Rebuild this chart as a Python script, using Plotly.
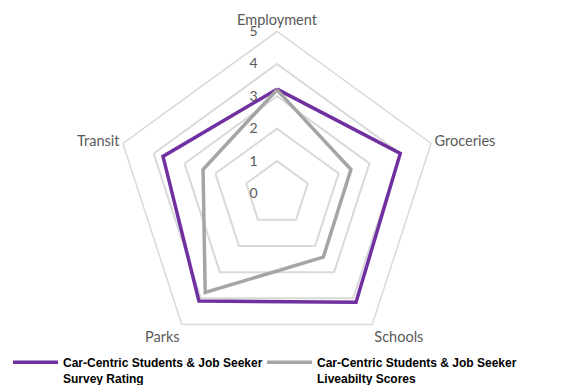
import plotly.graph_objects as go

categories = ["Employment", "Groceries", "Schools", "Parks", "Transit"]
survey_rating = [3.22, 4.0, 4.15, 4.1, 3.7]
liveability_scores = [3.2, 2.4, 2.43, 3.77, 2.4]
series_names = ["Car-Centric Students & Job Seeker<br>Survey Rating",
                "Car-Centric Students & Job Seeker<br>Liveabilty Scores"]
radial_ticks = [0, 1, 2, 3, 4, 5]

W, H = 569, 385
cx, cy, R = 277 - 8, 192.5 - 7, 162

fig = go.Figure()
for vals, name, color, leg in [(survey_rating, series_names[0], "#7030A0", "legend"),
                               (liveability_scores, series_names[1], "#A5A5A5", "legend2")]:
    fig.add_trace(go.Scatterpolar(
        r=vals + vals[:1], theta=categories + categories[:1],
        mode="lines", name=name, legend=leg, showlegend=True,
        line=dict(color=color, width=3.5),
    ))

legend_style = dict(y=0.0, xanchor="left", yanchor="bottom",
                    font=dict(family="Liberation Sans, Arial, sans-serif", size=12,
                              color="#000000", weight="bold"),
                    itemwidth=45, valign="top", bgcolor="rgba(0,0,0,0)")

fig.update_layout(
    width=W, height=H,
    showlegend=True,
    margin=dict(l=0, r=0, t=0, b=0),
    paper_bgcolor="white", plot_bgcolor="white",
    font=dict(family="Lato, sans-serif", color="#595959", size=14),
    polar=dict(
        domain=dict(x=[(cx - R) / W, (cx + R) / W],
                    y=[1 - (cy + R) / H, 1 - (cy - R) / H]),
        bgcolor="white",
        gridshape="linear",
        radialaxis=dict(range=[0, 5], tickvals=radial_ticks, angle=90,
                        side="counterclockwise",
                        showline=False, showgrid=True, gridcolor="#D9D9D9", gridwidth=1.5,
                        ticks="outside", ticklen=14, tickcolor="rgba(0,0,0,0)",
                        tickangle=90,
                        tickfont=dict(size=14, color="#595959")),
        angularaxis=dict(direction="clockwise", rotation=90,
                         showgrid=False, showline=True, linecolor="#D9D9D9", linewidth=1.5,
                         ticks="", tickfont=dict(size=14.5, color="#595959")),
    ),
    legend=dict(x=0.0, **legend_style),
    legend2=dict(x=254 / W, **legend_style),
)

fig.write_html("out.html")
